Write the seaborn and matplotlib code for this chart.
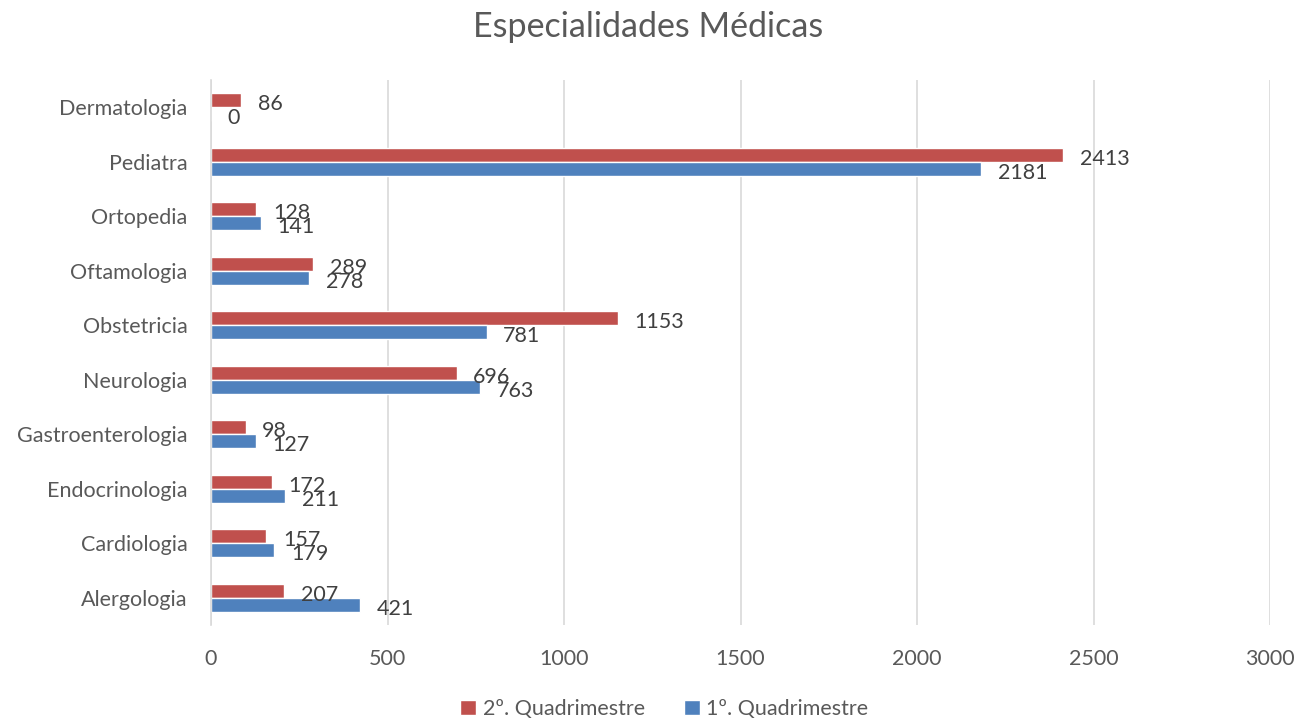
import matplotlib
matplotlib.use("Agg")
import matplotlib.pyplot as plt
import seaborn as sns
import pandas as pd

categories = ["Dermatologia", "Pediatra", "Ortopedia", "Oftamologia", "Obstetricia",
              "Neurologia", "Gastroenterologia", "Endocrinologia", "Cardiologia", "Alergologia"]
q2_values = [86, 2413, 128, 289, 1153, 696, 98, 172, 157, 207]
q1_values = [0, 2181, 141, 278, 781, 763, 127, 211, 179, 421]
series_names = ["2º. Quadrimestre", "1º. Quadrimestre"]
x_ticks = [0, 500, 1000, 1500, 2000, 2500, 3000]

df = pd.DataFrame({
    "Especialidade": categories * 2,
    "Valor": q2_values + q1_values,
    "Serie": [series_names[0]] * len(categories) + [series_names[1]] * len(categories),
})

sns.set_theme(style="white")
plt.rcParams["font.family"] = ["Lato", "DejaVu Sans"]
text_color = "#595959"

fig = plt.figure(figsize=(12.96, 7.2), dpi=100)
ax = fig.add_axes([0.1628, 0.132, 0.8172, 0.757])

sns.barplot(data=df, y="Especialidade", x="Valor", hue="Serie", order=categories,
            hue_order=series_names, palette=["#C0504D", "#4F81BD"], orient="h",
            width=0.52, ax=ax, legend=True, saturation=1)

for cont in ax.containers:
    anns = ax.bar_label(cont, padding=12, fontsize=15.5, color="#404040")
    for a in anns:
        a.xyann = (12, -3)

ax.set_xlim(0, 3000)
ax.set_xticks(x_ticks)
ax.set_xticklabels([str(t) for t in x_ticks])
ax.set_xlabel("")
ax.set_ylabel("")
ax.xaxis.grid(True, color="#D9D9D9", linewidth=1.2)
ax.set_axisbelow(True)
for s in ["top", "right", "bottom"]:
    ax.spines[s].set_visible(False)
ax.spines["left"].set_color("#D9D9D9")
ax.spines["left"].set_linewidth(1.2)
ax.tick_params(axis="x", length=0, pad=17, labelsize=15.5, labelcolor=text_color)
ax.tick_params(axis="y", length=0, pad=17, labelsize=15.5, labelcolor=text_color)

fig.suptitle("Especialidades Médicas", fontsize=24.5, color=text_color, y=0.985)

leg = ax.legend(loc="center", bbox_to_anchor=(0.428, -0.154), ncol=2, frameon=False,
                fontsize=15.5, handlelength=0.75, handleheight=0.75, columnspacing=1.8,
                handletextpad=0.3, labelcolor=text_color)

fig.savefig("out.png", dpi=100)
